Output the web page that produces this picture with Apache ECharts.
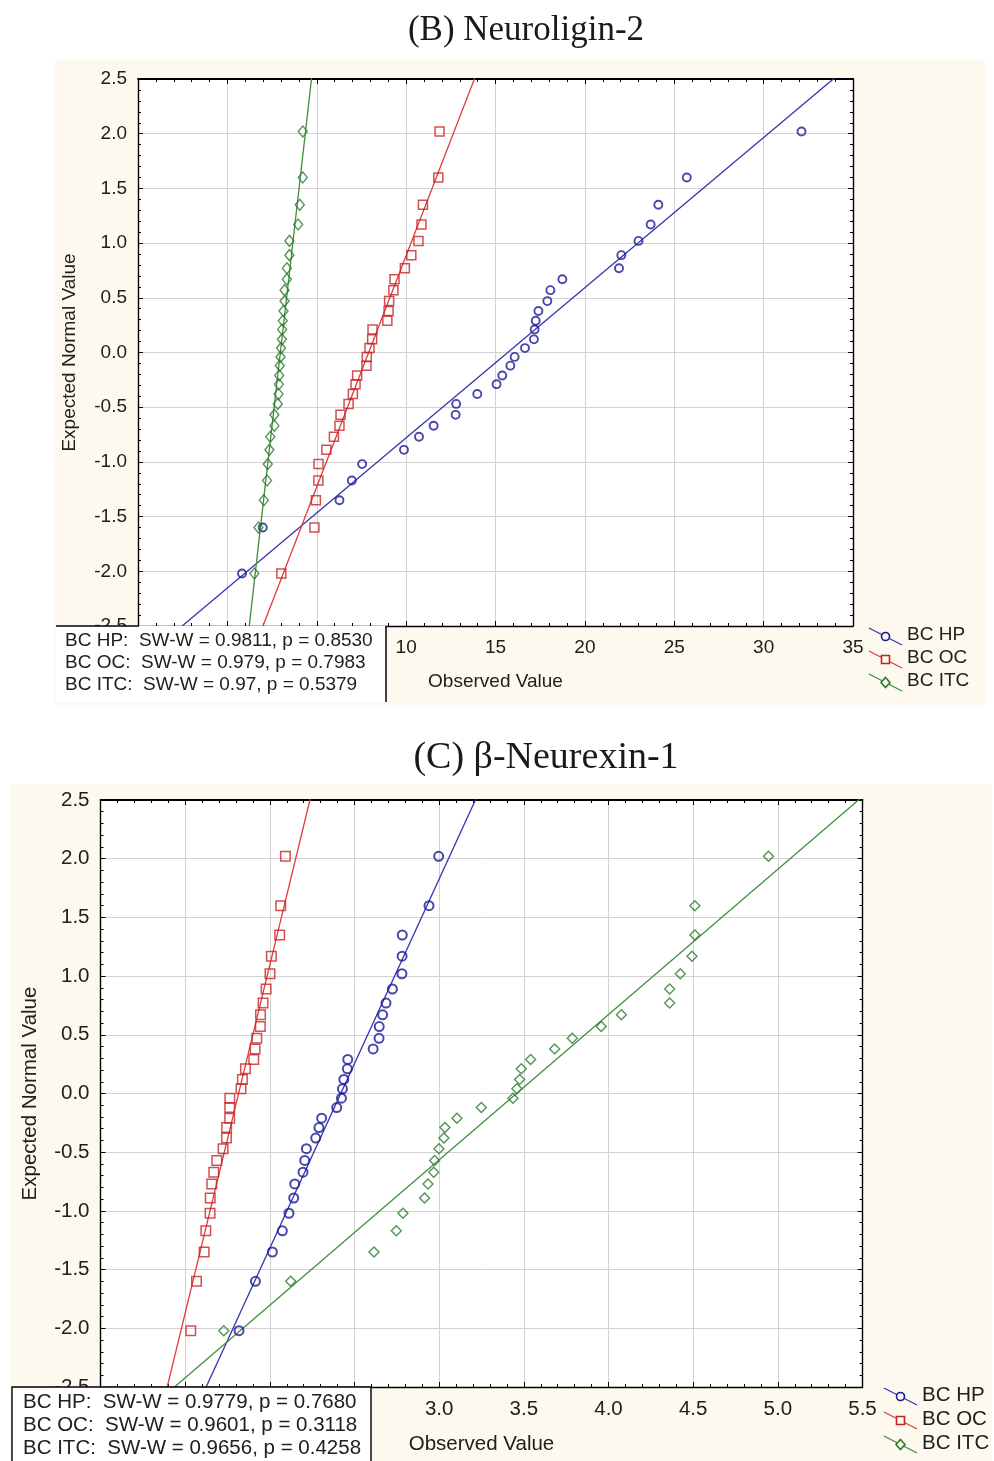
<!DOCTYPE html>
<html>
<head>
<meta charset="utf-8">
<script src="https://cdn.jsdelivr.net/npm/echarts@6/dist/echarts.min.js"></script>
<style>
  html, body { margin: 0; padding: 0; background: #ffffff; }
  #chart { width: 994px; height: 1461px; }
</style>
</head>
<body>
<div id="chart"></div>
<script>
// Expected normal scores (y) shared by every group, n = 30 per group
const expectedNormal = [-2.02, -1.6, -1.35, -1.17, -1.02, -0.89, -0.77, -0.67, -0.57, -0.47,
  -0.38, -0.29, -0.21, -0.12, -0.04, 0.04, 0.12, 0.21, 0.29, 0.38,
  0.47, 0.57, 0.67, 0.77, 0.89, 1.02, 1.17, 1.35, 1.6, 2.02];

// (B) Neuroligin-2 observed values, sorted
const nlgHP = [0.82, 1.98, 6.27, 6.96, 7.54, 9.88, 10.72, 11.54, 12.77, 12.8,
  13.98, 15.06, 15.38, 15.83, 16.07, 16.65, 17.15, 17.19, 17.25, 17.4,
  17.9, 18.07, 18.74, 21.91, 22.04, 23.0, 23.68, 24.11, 25.7, 32.12];
const nlgOC = [3.02, 4.87, 4.95, 5.09, 5.1, 5.54, 5.96, 6.27, 6.33, 6.78,
  7.02, 7.17, 7.26, 7.78, 7.8, 7.95, 8.1, 8.12, 8.95, 9.02,
  9.05, 9.29, 9.35, 9.93, 10.29, 10.69, 10.86, 10.94, 11.8, 11.87];
const nlgITC = [1.51, 1.74, 2.04, 2.22, 2.26, 2.35, 2.4, 2.63, 2.63, 2.82,
  2.86, 2.88, 2.9, 2.93, 2.97, 3.0, 3.05, 3.06, 3.1, 3.14,
  3.2, 3.2, 3.33, 3.33, 3.47, 3.47, 3.96, 4.05, 4.22, 4.22];

// (C) β-Neurexin-1 observed values, sorted
const nrxHP = [1.818, 1.915, 2.015, 2.074, 2.113, 2.141, 2.147, 2.196, 2.206, 2.216,
  2.271, 2.29, 2.306, 2.395, 2.423, 2.429, 2.437, 2.458, 2.46, 2.61,
  2.645, 2.646, 2.666, 2.686, 2.724, 2.78, 2.781, 2.782, 2.94, 2.997];
const nrxOC = [1.533, 1.567, 1.612, 1.622, 1.647, 1.648, 1.657, 1.669, 1.687, 1.724,
  1.744, 1.745, 1.763, 1.763, 1.764, 1.83, 1.838, 1.856, 1.905, 1.913,
  1.923, 1.944, 1.945, 1.96, 1.978, 2.001, 2.009, 2.058, 2.064, 2.092];
const nrxITC = [1.728, 2.123, 2.615, 2.747, 2.786, 2.914, 2.934, 2.968, 2.973, 2.999,
  3.028, 3.034, 3.105, 3.249, 3.436, 3.459, 3.475, 3.485, 3.54, 3.682,
  3.786, 3.957, 4.076, 4.361, 4.361, 4.424, 4.493, 4.51, 4.51, 4.945];

const groupNames = ['BC HP', 'BC OC', 'BC ITC'];
const statsB = ['BC HP:  SW-W = 0.9811, p = 0.8530',
                'BC OC:  SW-W = 0.979, p = 0.7983',
                'BC ITC:  SW-W = 0.97, p = 0.5379'];
const statsC = ['BC HP:  SW-W = 0.9779, p = 0.7680',
                'BC OC:  SW-W = 0.9601, p = 0.3118',
                'BC ITC:  SW-W = 0.9656, p = 0.4258'];

const SANS = 'Liberation Sans';
const SERIF = 'Liberation Serif';
const TEXT = '#202020';
const COL = {
  hp:  { line: '#3535b2', mark: '#1a1a96' },
  oc:  { line: '#e23a3a', mark: '#c42626' },
  itc: { line: '#3f8f3f', mark: '#2c782c' }
};

// least-squares line of expected normal score on observed value
function fitLine(xs, ys, xmin, xmax) {
  const n = xs.length;
  const mx = xs.reduce((a, b) => a + b, 0) / n;
  const my = ys.reduce((a, b) => a + b, 0) / n;
  let sxy = 0, sxx = 0;
  for (let i = 0; i < n; i++) { sxy += (xs[i] - mx) * (ys[i] - my); sxx += (xs[i] - mx) ** 2; }
  const b = sxy / sxx;
  return [[xmin, my + b * (xmin - mx)], [xmax, my + b * (xmax - mx)]];
}

function pairs(xs) { return xs.map((v, i) => [v, expectedNormal[i]]); }

function axesFor(grid, xr, fs, xName, xGap, yGap, xFmt) {
  const tickStyle = { color: '#000', width: 1 };
  const xBottom = {
    gridIndex: grid, type: 'value', position: 'bottom',
    min: xr.min, max: xr.max, interval: xr.interval,
    axisLine: { show: true, onZero: false, lineStyle: { color: '#000', width: 1.4 } },
    axisTick: { show: true, inside: true, length: 5, lineStyle: tickStyle },
    minorTick: { show: true, splitNumber: 5, length: 3, lineStyle: tickStyle },
    axisLabel: { fontFamily: SANS, fontSize: fs, color: TEXT, margin: 12, formatter: xFmt },
    splitLine: { show: true, lineStyle: { color: '#d2d2d2', width: 1 } },
    name: xName, nameLocation: 'middle', nameGap: xGap,
    nameTextStyle: { fontFamily: SANS, fontSize: fs, color: TEXT }
  };
  const xTop = {
    gridIndex: grid, type: 'value', position: 'top',
    min: xr.min, max: xr.max, interval: xr.interval,
    axisLine: { show: true, onZero: false, lineStyle: { color: '#000', width: 1.8 } },
    axisTick: { show: true, inside: true, length: 5, lineStyle: tickStyle },
    minorTick: { show: true, splitNumber: 5, length: 3, lineStyle: tickStyle },
    axisLabel: { show: false }, splitLine: { show: false }
  };
  const yLeft = {
    gridIndex: grid, type: 'value', position: 'left',
    min: -2.5, max: 2.5, interval: 0.5,
    axisLine: { show: true, onZero: false, lineStyle: { color: '#000', width: 1.4 } },
    axisTick: { show: true, inside: true, length: 5, lineStyle: tickStyle },
    minorTick: { show: true, splitNumber: 5, length: 3, lineStyle: tickStyle },
    axisLabel: { fontFamily: SANS, fontSize: fs, color: TEXT, margin: 11,
                 formatter: v => v.toFixed(1) },
    splitLine: { show: true, lineStyle: { color: '#d2d2d2', width: 1 } },
    name: 'Expected Normal Value', nameLocation: 'middle', nameGap: yGap, nameRotate: 90,
    nameTextStyle: { fontFamily: SANS, fontSize: fs, color: TEXT }
  };
  const yRight = {
    gridIndex: grid, type: 'value', position: 'right',
    min: -2.5, max: 2.5, interval: 0.5,
    axisLine: { show: true, onZero: false, lineStyle: { color: '#000', width: 1.4 } },
    axisTick: { show: true, inside: true, length: 5, lineStyle: tickStyle },
    minorTick: { show: true, splitNumber: 5, length: 3, lineStyle: tickStyle },
    axisLabel: { show: false }, splitLine: { show: false }
  };
  return { x: [xBottom, xTop], y: [yLeft, yRight] };
}

const rangeB = { min: -5, max: 35, interval: 5 };
const rangeC = { min: 1.0, max: 5.5, interval: 0.5 };
const axB = axesFor(0, rangeB, 19, 'Observed Value', 46, 59, v => String(v));
const axC = axesFor(1, rangeC, 20.5, 'Observed Value', 47, 60, v => v.toFixed(1));

function groupSeries(xIdx, yIdx, xs, col, symbol, size, bw, range) {
  return [
    {
      type: 'line', xAxisIndex: xIdx, yAxisIndex: yIdx, clip: true,
      data: fitLine(xs, expectedNormal, range.min, range.max),
      symbol: 'none', silent: true, z: 2,
      lineStyle: { color: col.line, width: 1.3 }
    },
    {
      type: 'scatter', xAxisIndex: xIdx, yAxisIndex: yIdx,
      data: pairs(xs), symbol: symbol, symbolSize: size, z: 3,
      itemStyle: { color: 'rgba(255,255,255,0)', borderColor: col.mark, borderWidth: bw }
    }
  ];
}

const series = [].concat(
  groupSeries(0, 0, nlgHP, COL.hp, 'circle', 8, 1.9, rangeB),
  groupSeries(0, 0, nlgOC, COL.oc, 'rect', 9, 1.5, rangeB),
  groupSeries(0, 0, nlgITC, COL.itc, 'diamond', [9, 11], 1.4, rangeB),
  groupSeries(2, 2, nrxHP, COL.hp, 'circle', 9, 2, rangeC),
  groupSeries(2, 2, nrxOC, COL.oc, 'rect', 9.5, 1.5, rangeC),
  groupSeries(2, 2, nrxITC, COL.itc, 'diamond', [10, 10], 1.4, rangeC)
);

// legend entry: slanted line with the group's marker
function legendItem(x, y, col, kind, label, fs) {
  const els = [];
  els.push({ type: 'line', z: 100, shape: { x1: x, y1: y - 7, x2: x + 33, y2: y + 10 },
             style: { stroke: col.line, lineWidth: 1.3 } });
  const cx = x + 16.5, cy = y + 1.5;
  const ms = { fill: '#fdf9ee', stroke: col.mark, lineWidth: 1.6 };
  if (kind === 'circle') els.push({ type: 'circle', z: 101, shape: { cx, cy, r: 4 }, style: ms });
  if (kind === 'rect') els.push({ type: 'rect', z: 101, shape: { x: cx - 4, y: cy - 4, width: 8, height: 8 }, style: ms });
  if (kind === 'diamond') els.push({ type: 'polygon', z: 101,
    shape: { points: [[cx, cy - 5], [cx + 4.5, cy], [cx, cy + 5], [cx - 4.5, cy]] }, style: ms });
  els.push({ type: 'text', z: 101, x: x + 38, y: y,
    style: { text: label, font: fs + 'px "' + SANS + '"', fill: TEXT, verticalAlign: 'middle' } });
  return els;
}

const kinds = ['circle', 'rect', 'diamond'];
const cols = [COL.hp, COL.oc, COL.itc];
const graphics = [
  // cream panels
  { type: 'rect', z: -100, shape: { x: 55, y: 60, width: 930, height: 645 }, style: { fill: '#fdf9ee' } },
  { type: 'rect', z: -100, shape: { x: 10, y: 784, width: 982, height: 677 }, style: { fill: '#fdf9ee' } },
  // titles
  { type: 'text', z: 100, x: 526, y: 31,
    style: { text: '(B) Neuroligin-2', font: '35px "' + SERIF + '"', fill: '#1a1a1a', align: 'center', verticalAlign: 'middle' } },
  { type: 'text', z: 100, x: 546, y: 758,
    style: { text: '(C) β-Neurexin-1', font: '38px "' + SERIF + '"', fill: '#1a1a1a', align: 'center', verticalAlign: 'middle' } },
  // statistics box, panel B
  { type: 'rect', z: 90, shape: { x: 56, y: 626, width: 330, height: 76 }, style: { fill: '#ffffff' } },
  { type: 'line', z: 91, shape: { x1: 56, y1: 626, x2: 139, y2: 626 }, style: { stroke: '#000', lineWidth: 1.4 } },
  { type: 'line', z: 91, shape: { x1: 386, y1: 626, x2: 386, y2: 702 }, style: { stroke: '#000', lineWidth: 1.5 } },
  // statistics box, panel C
  { type: 'rect', z: 90, shape: { x: 12, y: 1387, width: 359, height: 80 },
    style: { fill: '#ffffff', stroke: '#000', lineWidth: 1.4 } }
];
statsB.forEach((t, i) => graphics.push({ type: 'text', z: 95, x: 65, y: 641 + i * 21.8,
  style: { text: t, font: '19px "' + SANS + '"', fill: TEXT, verticalAlign: 'middle' } }));
statsC.forEach((t, i) => graphics.push({ type: 'text', z: 95, x: 23, y: 1402 + i * 23.3,
  style: { text: t, font: '20.5px "' + SANS + '"', fill: TEXT, verticalAlign: 'middle' } }));
groupNames.forEach((g, i) => {
  legendItem(869, 635 + i * 23, cols[i], kinds[i], g, 19).forEach(e => graphics.push(e));
  legendItem(884, 1395 + i * 24, cols[i], kinds[i], g, 20.5).forEach(e => graphics.push(e));
});

const chart = echarts.init(document.getElementById('chart'), null, { renderer: 'canvas' });
chart.setOption({
  animation: false,
  backgroundColor: 'transparent',
  grid: [
    { left: 138, top: 79, width: 715, height: 547, show: true, backgroundColor: '#ffffff', borderWidth: 0 },
    { left: 100.5, top: 800, width: 762, height: 587, show: true, backgroundColor: '#ffffff', borderWidth: 0 }
  ],
  xAxis: axB.x.concat(axC.x),
  yAxis: axB.y.concat(axC.y),
  series: series,
  graphic: { elements: graphics }
});
</script>
</body>
</html>
